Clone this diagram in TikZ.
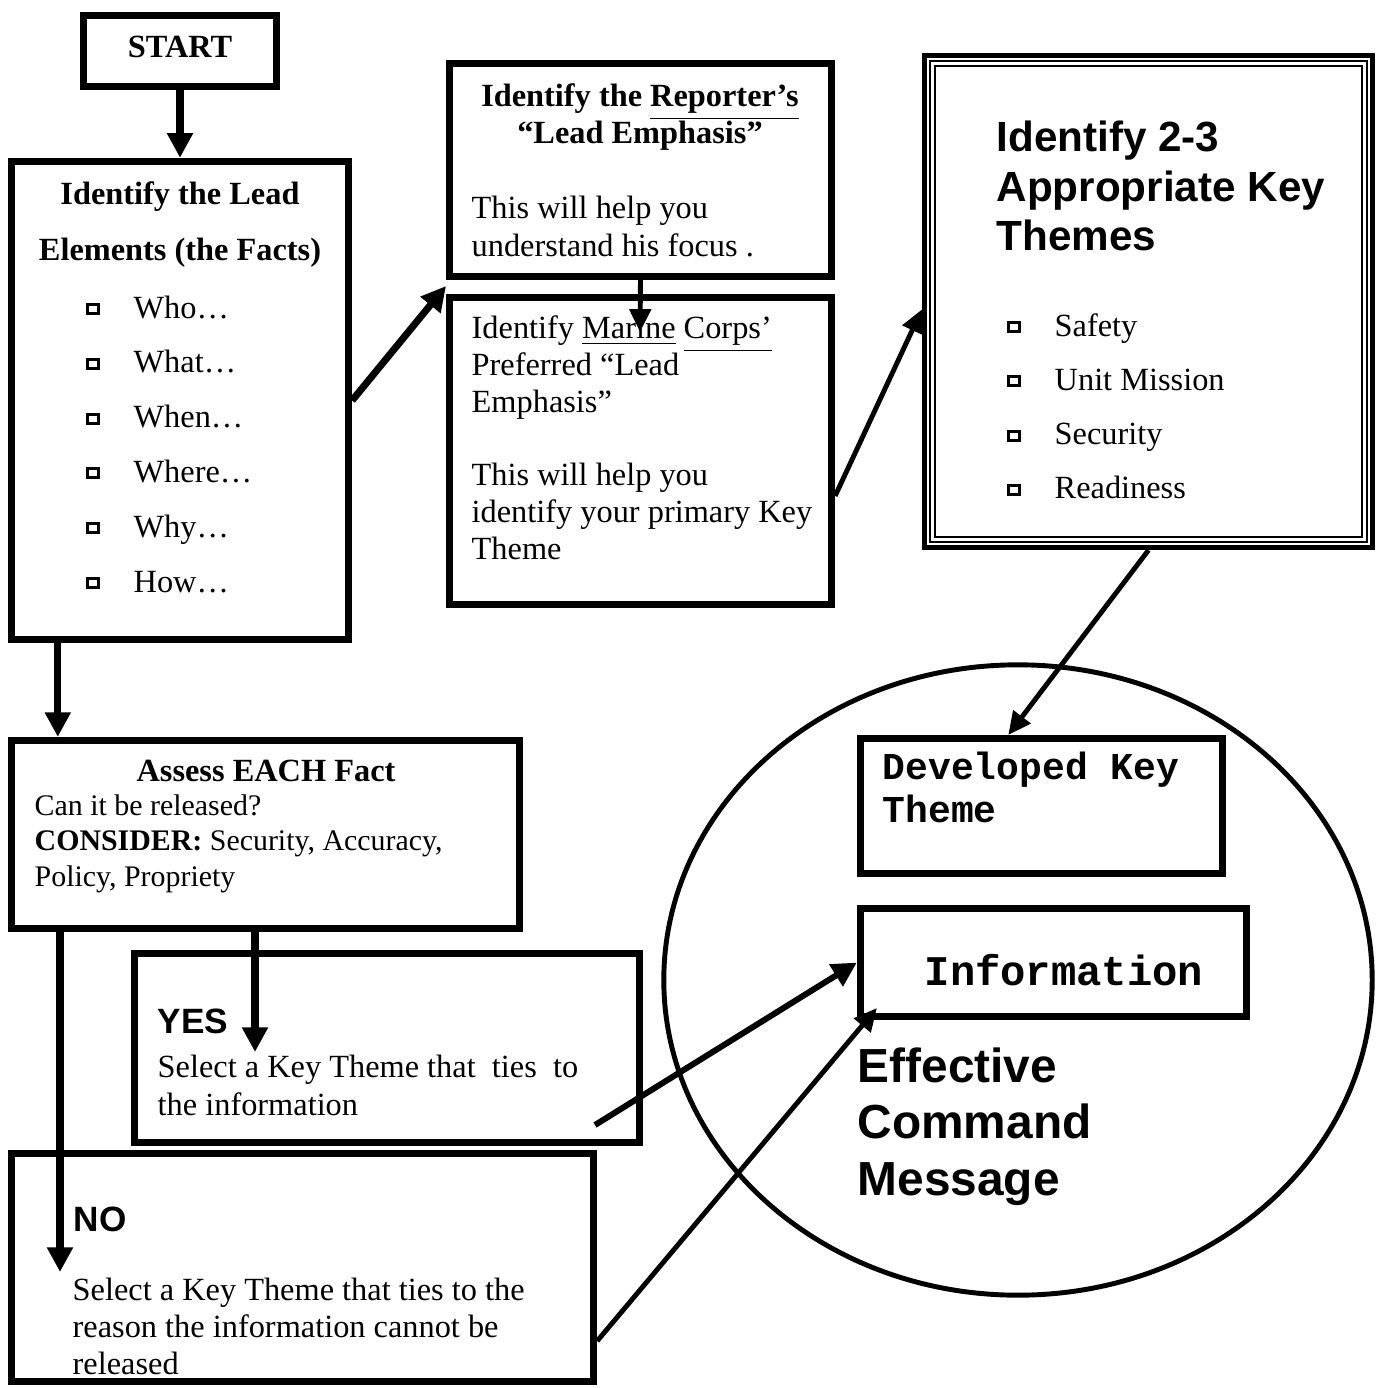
\documentclass[tikz,border=0pt]{standalone}
\usepackage{fontspec}
\setmainfont{Liberation Serif}
\setsansfont{Liberation Sans}
\setmonofont{Liberation Mono}
\usetikzlibrary{arrows.meta,shapes.geometric,calc}
\newcommand{\FT}{\fontsize{9.2}{10.6}\selectfont}
\newcommand{\FH}{\fontsize{12}{14.2}\selectfont\sffamily\bfseries}

\begin{document}
\begin{tikzpicture}[x=0.01cm,y=-0.01cm]
\tikzstyle{box}=[draw=black,line width=2pt,inner sep=0pt]
\tikzstyle{texto}=[inner sep=0pt,font=\FT]
\tikzstyle{chk}=[draw=black,line width=0.8pt,minimum width=0.11cm,minimum height=0.09cm,inner sep=0pt]
\tikzstyle{flow}=[line width=2pt,-{Triangle[length=7pt,width=7pt]}]
\tikzstyle{thinflow}=[line width=1.4pt,-{Triangle[length=6.5pt,width=6pt]}]

\useasboundingbox (0,0) rectangle (1383,1388);

\node[draw,ellipse,line width=1.4pt,minimum width=7.08cm,minimum height=6.30cm,inner sep=0pt] (ecm) at (1018,980) {};

\node[box,minimum width=1.93cm,minimum height=0.71cm] (start) at (180,51) {};
\node[box,minimum width=3.37cm,minimum height=4.78cm] (lead) at (180,400.5) {};
\node[box,minimum width=3.82cm,minimum height=2.13cm] (rep) at (640.5,170) {};
\node[box,minimum width=3.82cm,minimum height=3.07cm] (mar) at (640.5,451) {};
\node[box,line width=1.4pt,minimum width=4.48cm,minimum height=4.92cm] (themes) at (1148.5,301.5) {};
\draw[line width=0.6pt] ($(themes.north west)+(8,8)$) rectangle ($(themes.south east)+(-8,-8)$);
\draw[line width=0.6pt] ($(themes.north west)+(13,13)$) rectangle ($(themes.south east)+(-13,-13)$);
\node[box,minimum width=5.08cm,minimum height=1.88cm] (assess) at (265.5,834.5) {};
\node[box,minimum width=5.05cm,minimum height=1.89cm] (yes) at (387,1048) {};
\node[box,minimum width=5.82cm,minimum height=2.28cm] (no) at (302.5,1267.5) {};
\node[box,minimum width=3.62cm,minimum height=1.35cm] (dev) at (1041.5,806) {};
\node[box,minimum width=3.86cm,minimum height=1.08cm] (info) at (1053.5,962.5) {};

\node[texto,font=\FT\bfseries,anchor=base] (startt) at (180,58) {START};
\node[texto,font=\fontsize{9.2}{16}\selectfont\bfseries,align=center,anchor=base] (leadt) at (180,261) {Identify the Lead\\Elements (the Facts)};
\foreach \lbl [count=\i from 0] in {Who\dots,What\dots,When\dots,Where\dots,Why\dots,How\dots}{
  \node[chk] (lb\i) at (93,309+54.8*\i) {};
  \node[texto,anchor=base west] (lt\i) at (133,318+54.8*\i) {\lbl};
}

\node[texto,font=\FT\bfseries,align=center,anchor=base] (rept) at (640,144) {Identify the \underline{Reporter's}\\``Lead Emphasis''};
\node[texto,font=\fontsize{9.2}{10.8}\selectfont,align=left,anchor=base west] (repb) at (471,256) {This will help you\\understand his focus .};
\node[texto,font=\fontsize{9.2}{10.45}\selectfont,align=left,anchor=base west] (mart) at (471,559) {Identify \underline{Marine} \underline{Corps'}\\Preferred ``Lead\\Emphasis''\\[10.45pt]This will help you\\identify your primary Key\\Theme};

\node[texto,font=\FH,align=left,anchor=base west] (themest) at (996,251) {Identify 2-3\\Appropriate Key\\Themes};
\foreach \lbl [count=\i from 0] in {Safety,Unit Mission,Security,Readiness}{
  \node[chk] (tb\i) at (1014,327+54.3*\i) {};
  \node[texto,anchor=base west] (tt\i) at (1054,336+54.3*\i) {\lbl};
}

\node[texto,font=\FT\bfseries,anchor=base] (assesst) at (266,781) {Assess EACH Fact};
\node[texto,font=\fontsize{8.5}{10}\selectfont,align=left,anchor=base west] (assessb) at (34,886) {Can it be released?\\\textbf{CONSIDER:} Security, Accuracy,\\Policy, Propriety};

\node[texto,font=\fontsize{10}{12}\selectfont\sffamily\bfseries,anchor=base west] (yest) at (157,1033) {YES};
\node[texto,font=\fontsize{9.2}{10.8}\selectfont,align=left,anchor=base west] (yesb) at (157,1115) {Select a Key Theme that\ \ ties\ \ to\\the information};
\node[texto,font=\fontsize{10}{12}\selectfont\sffamily\bfseries,anchor=base west] (not) at (73,1231) {NO};
\node[texto,font=\fontsize{9.2}{10.5}\selectfont,align=left,anchor=base west] (nob) at (72,1374) {Select a Key Theme that ties to the\\reason the information cannot be\\released};

\node[texto,font=\fontsize{10.8}{12}\selectfont\ttfamily\bfseries,align=left,anchor=base west] (devt) at (882,822) {Developed Key\\Theme};
\node[texto,font=\fontsize{12}{14}\selectfont\ttfamily\bfseries,anchor=base west] (infot) at (924,985) {Information};
\node[texto,font=\fontsize{13.6}{16}\selectfont\sffamily\bfseries,align=left,anchor=base west] (ecmt) at (857,1195) {Effective\\Command\\Message};

\coordinate (junc) at (446,286);
\coordinate (marin) at (640,332);
\coordinate (la) at ($(lead.south west)!0.145!(lead.south east)$);
\coordinate (ay) at (255,1052);
\coordinate (an) at (60,1272);
\coordinate (yi) at (595,1125);
\coordinate (ni) at ($(info.south west)+(20,-12)$);

\draw[flow] (start.south) -- (lead.north);
\draw[flow] (lead.east) -- (junc);
\draw[thinflow] (rep.south) -- (marin);
\draw[thinflow] (mar.-13) -- (themes.182);
\draw[thinflow] (themes.south) -- ($(dev.north west)!0.41!(dev.north east)$);
\draw[flow] (la) -- (la |- assess.north);
\draw[flow] (ay |- assess.south) -- (ay);
\draw[flow] (an |- assess.south) -- (an);
\draw[line width=1.7pt,-{Triangle[length=7pt,width=7pt]}] (yi) -- (info.west);
\draw[thinflow] (no.-14) -- (ni);
\end{tikzpicture}
\end{document}
